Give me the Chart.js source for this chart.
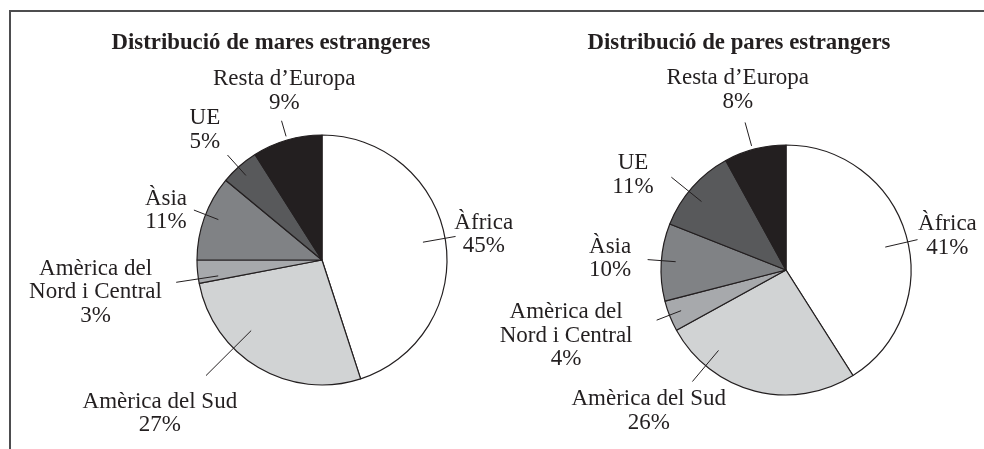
<!DOCTYPE html>
<html>
<head>
<meta charset="utf-8">
<script src="https://cdn.jsdelivr.net/npm/chart.js@4.4.1/dist/chart.umd.min.js"></script>
<style>
  html, body { margin: 0; padding: 0; background: #fff; }
  #wrap { position: relative; width: 984px; height: 449px; overflow: hidden; }
  #frame { position: absolute; left: 9px; top: 10px; right: -10px; bottom: -10px;
           border-top: 2px solid #4d4d4f; border-left: 2px solid #4d4d4f; }
  canvas { position: absolute; left: 0; top: 0; }
</style>
</head>
<body>
<div id="wrap">
  <div id="frame"></div>
  <canvas id="maresChart" width="984" height="449"></canvas>
  <canvas id="paresChart" width="984" height="449"></canvas>
</div>
<script>
// slices, clockwise from 12 o'clock
const categories = [
  ['Àfrica'],
  ['Amèrica del Sud'],
  ['Amèrica del', 'Nord i Central'],
  ['Àsia'],
  ['UE'],
  ['Resta d’Europa'],
];
const maresValues = [45, 27, 3, 11, 5, 9];
const paresValues = [41, 26, 4, 10, 11, 8];

const sliceColors = ['#ffffff', '#d1d3d4', '#a7a9ac', '#808285', '#58595b', '#231f20'];
const INK = '#231f20';
const SERIF = '"Liberation Serif", "DejaVu Serif", serif';

// callout layout per slice: [leader angle nudge (deg), leader r1, leader r2, label angle nudge, label r]
// radii are in units of the pie radius, angles are relative to the slice middle
const maresCallouts = [
  [-1, 0.82, 1.085, 0, 1.31],
  [14.5, 0.80, 1.31, 16, 1.785],
  [-3.3, 0.84, 1.18, -2.7, 1.83],
  [1.5, 0.89, 1.10, -2.1, 1.31],
  [-0.6, 0.91, 1.13, -0.6, 1.40],
  [0, 1.03, 1.16, 3.6, 1.385],
];
const paresCallouts = [
  [3.2, 0.815, 1.08, 4.3, 1.32],
  [25.6, 0.84, 1.165, 29.8, 1.575],
  [0.4, 0.90, 1.11, 5, 1.836],
  [0.7, 0.885, 1.11, 0.2, 1.41],
  [-2.4, 0.87, 1.18, -9.6, 1.44],
  [-1.1, 1.03, 1.225, -0.6, 1.49],
];

const calloutPlugin = {
  id: 'callouts',
  afterDatasetsDraw(chart, args, opts) {
    const ctx = chart.ctx;
    const meta = chart.getDatasetMeta(0);
    const values = chart.data.datasets[0].data;
    const rad = Math.PI / 180;
    ctx.save();
    ctx.fillStyle = INK;
    ctx.strokeStyle = INK;
    ctx.textAlign = 'center';
    ctx.textBaseline = 'middle';

    ctx.font = `bold ${opts.headingSize}px ${SERIF}`;
    ctx.fillText(opts.heading, opts.headingX, opts.headingY);

    ctx.font = `${opts.fontSize}px ${SERIF}`;
    ctx.lineWidth = 1;
    meta.data.forEach((arc, i) => {
      const { x, y, startAngle, endAngle, outerRadius } =
        arc.getProps(['x', 'y', 'startAngle', 'endAngle', 'outerRadius'], true);
      const mid = (startAngle + endAngle) / 2;
      const [lNudge, r1, r2, tNudge, tr] = opts.layout[i];
      const la = mid + lNudge * rad;
      ctx.beginPath();
      ctx.moveTo(x + Math.cos(la) * r1 * outerRadius, y + Math.sin(la) * r1 * outerRadius);
      ctx.lineTo(x + Math.cos(la) * r2 * outerRadius, y + Math.sin(la) * r2 * outerRadius);
      ctx.stroke();

      const ta = mid + tNudge * rad;
      const cx = x + Math.cos(ta) * tr * outerRadius;
      const cy = y + Math.sin(ta) * tr * outerRadius;
      const lines = [...chart.data.labels[i], `${values[i]}%`];
      const top = cy - (lines.length - 1) * opts.lineGap / 2;
      lines.forEach((t, k) => ctx.fillText(t, cx, top + k * opts.lineGap));
    });
    ctx.restore();
  },
};

function makePie(id, values, callouts, heading, headingX, padding) {
  return new Chart(document.getElementById(id), {
    type: 'pie',
    data: {
      labels: categories,
      datasets: [{
        data: values,
        backgroundColor: sliceColors,
        borderColor: INK,
        borderWidth: 1.2,
      }],
    },
    options: {
      responsive: false,
      animation: false,
      events: [],
      radius: 125,
      layout: { padding },
      plugins: {
        legend: { display: false },
        tooltip: { enabled: false },
        callouts: {
          heading,
          headingX,
          headingY: 43,
          headingSize: 22.8,
          fontSize: 23,
          lineGap: 23.5,
          layout: callouts,
        },
      },
    },
    plugins: [calloutPlugin],
  });
}

makePie('maresChart', maresValues, maresCallouts, 'Distribució de mares estrangeres', 271,
  { left: 197, right: 537, top: 135, bottom: 64 });
makePie('paresChart', paresValues, paresCallouts, 'Distribució de pares estrangers', 739,
  { left: 661, right: 73, top: 145, bottom: 54 });
</script>
</body>
</html>
